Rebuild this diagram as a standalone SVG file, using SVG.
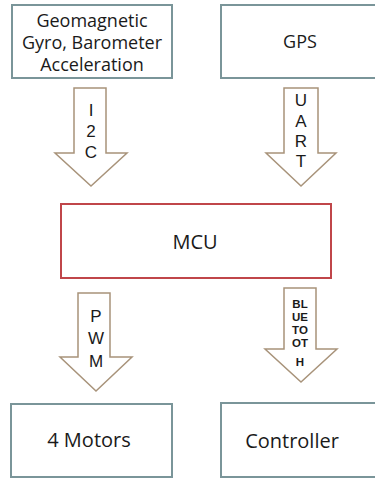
<svg xmlns="http://www.w3.org/2000/svg" width="375" height="478" viewBox="0 0 375 478">
<style>
.box{fill:#fff;stroke:#7a9599;stroke-width:2}
.mcu{fill:#fff;stroke:#c0464a;stroke-width:2}
.arr{fill:#fff;stroke:#a8937a;stroke-width:1.5;stroke-linejoin:miter}
.t{font-family:"Open Sans","Liberation Sans",sans-serif;font-size:18px;fill:#1a1a1a;text-anchor:middle}
.l{font-size:20px}
.a{font-family:"Liberation Sans","Open Sans",sans-serif;font-size:17px;fill:#1a1a1a;text-anchor:middle}
.b{font-family:"Liberation Sans","Open Sans",sans-serif;font-size:11.5px;font-weight:bold;fill:#1a1a1a;text-anchor:middle}
</style>
<rect width="375" height="478" fill="#fff"/>
<g id="connectors">
<g id="i2c">
<path class="arr" d="M74,88 H106 V153 H127 L91,186 L55,153 H74 Z"/>
<text class="a" x="91" y="116">I</text>
<text class="a" x="91" y="137">2</text>
<text class="a" x="91" y="158">C</text>
</g>
<g id="uart">
<path class="arr" d="M284,88 H318 V153 H336 L301,186 L266,153 H284 Z"/>
<text class="a" x="301" y="106">U</text>
<text class="a" x="301" y="127">A</text>
<text class="a" x="301" y="147">R</text>
<text class="a" x="301" y="167">T</text>
</g>
<g id="pwm">
<path class="arr" d="M78,293 H110 V357 H132 L96,391 L60,357 H78 Z"/>
<text class="a" x="96" y="322">P</text>
<text class="a" x="96" y="344">W</text>
<text class="a" x="96" y="367">M</text>
</g>
<g id="bluetooth">
<path class="arr" d="M284,288 H316 V349 H337 L301,382 L265,349 H284 Z"/>
<text class="b" x="300" y="308">BL</text>
<text class="b" x="300" y="321">UE</text>
<text class="b" x="300" y="334">TO</text>
<text class="b" x="300" y="347">OT</text>
<text class="b" x="300" y="366">H</text>
</g>
</g>
<g id="sensors">
<rect class="box" x="12" y="5" width="160" height="73"/>
<text class="t" x="92" y="27">Geomagnetic</text>
<text class="t" x="92" y="49">Gyro, Barometer</text>
<text class="t" x="92" y="71">Acceleration</text>
</g>
<g id="gps">
<rect class="box" x="221" y="5" width="160" height="73"/>
<text class="t" x="300" y="48">GPS</text>
</g>
<g id="mcu">
<rect class="mcu" x="61" y="204" width="270" height="74"/>
<text class="t l" x="195" y="249">MCU</text>
</g>
<g id="motors">
<rect class="box" x="11" y="404" width="161" height="73"/>
<text class="t l" x="89" y="447">4 Motors</text>
</g>
<g id="controller">
<rect class="box" x="221" y="403" width="160" height="74"/>
<text class="t l" x="292" y="448">Controller</text>
</g>
</svg>
